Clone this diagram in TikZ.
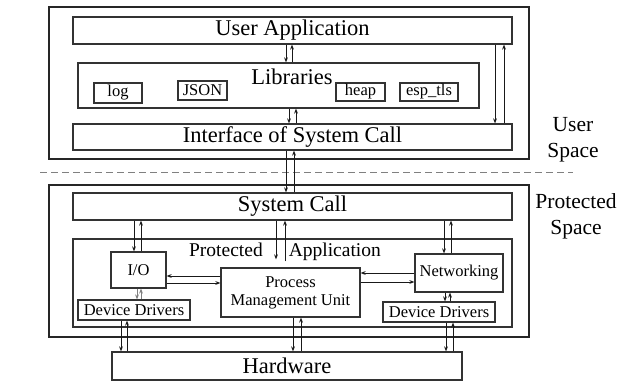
\documentclass[tikz,border=0pt]{standalone}
\usepackage{fontspec}
\setmainfont{Liberation Serif}
\usetikzlibrary{arrows.meta}

\tikzset{
    frame/.style={draw=black!85, line width=1.5pt},
    box/.style={draw=black!80, line width=1.2pt, fill=white, inner sep=0pt},
    bigtxt/.style={font=\fontsize{22.5}{26}\selectfont},
    sidetxt/.style={font=\fontsize{21.5}{26}\selectfont},
    midtxt/.style={font=\fontsize{16.5}{18}\selectfont},
    smltxt/.style={font=\fontsize{16.5}{17}\selectfont},
    arr/.style={-{Stealth[length=5pt,width=3.8pt]}, line width=0.8pt, black!90},
}

\begin{document}
\begin{tikzpicture}[x=1pt, y=-1pt]
    \useasboundingbox (0,0) rectangle (621,382);

    % Outer frames and separator
    \draw[frame] (49,7) rectangle (529,159);
    \draw[frame] (49,185) rectangle (529,337);
    \draw[gray, line width=1pt, dash pattern=on 7pt off 4pt] (40,173) -- (573,173);

    % User space
    \node[box, bigtxt, minimum width=439pt, minimum height=27pt] (app) at (292.5,30.5) {User Application};
    \node[box, minimum width=401pt, minimum height=45pt] (lib) at (278.5,85.5) {};
    \node[bigtxt] (libtxt) at (292,77) {Libraries};
    \node[box, smltxt, minimum width=48pt, minimum height=20pt] (log) at (118,93) {log};
    \node[box, smltxt, minimum width=49pt, minimum height=19pt] (json) at (202.5,90.5) {JSON};
    \node[box, smltxt, minimum width=49pt, minimum height=18pt] (heap) at (360.5,92) {heap};
    \node[box, smltxt, minimum width=58pt, minimum height=18pt] (tls) at (429,92) {esp\_tls};
    \node[box, bigtxt, minimum width=439pt, minimum height=26pt] (iface) at (292.5,137) {Interface of System Call};

    % Protected space
    \node[box, bigtxt, minimum width=439pt, minimum height=27pt] (sys) at (292.5,206.5) {System Call};
    \node[box, minimum width=439pt, minimum height=88pt] (papp) at (292.5,283) {};
    \node[font=\fontsize{19.5}{22}\selectfont] (papptxt) at (285,252) {Protected\hspace{26pt}Application};
    \node[box, midtxt, minimum width=55pt, minimum height=36pt] (io) at (138.5,270) {I/O};
    \node[box, midtxt, minimum width=139pt, minimum height=49pt, align=center] (pmu) at (290.5,292.5) {Process\\Management Unit};
    \node[box, midtxt, minimum width=88pt, minimum height=38pt] (net) at (459,273) {Networking};
    \node[box, midtxt, minimum width=112pt, minimum height=20pt] (dd1) at (134,310) {Device Drivers};
    \node[box, midtxt, minimum width=112pt, minimum height=20pt] (dd2) at (439,312) {Device Drivers};
    \node[box, bigtxt, minimum width=350pt, minimum height=28pt] (hw) at (287,366) {Hardware};

    % Side labels
    \node[sidetxt, align=center] (usp) at (573,140) {User\\Space};
    \node[sidetxt, align=center] (psp) at (576,216) {Protected\\Space};

    % Vertical arrow pairs (down, up)
    \foreach \a/\b/\xd/\xu in {app/lib/286/292, lib/iface/289/296, app/iface/495/504,
        iface/sys/286/294, sys/io/134/141, sys/net/444/451,
        net/dd2/445/450, dd1/hw/121/127, pmu/hw/293/301, dd2/hw/446/453} {
        \draw[arr] (\a.south -| \xd,0) -- (\b.north -| \xd,0);
        \draw[arr] (\b.north -| \xu,0) -- (\a.south -| \xu,0);
    }
    \draw[arr, shorten >=8pt] (sys.south -| 276,0) -- (pmu.north -| 276,0);
    \draw[arr, shorten <=6pt] (pmu.north -| 285,0) -- (sys.south -| 285,0);
    \draw[arr, gray, line width=0.6pt] (io.south -| 137,0) -- (dd1.north -| 137,0);
    \draw[arr, gray, line width=0.6pt] (dd1.north -| 141,0) -- (io.south -| 141,0);

    % Horizontal arrow pairs
    \draw[arr] (pmu.west |- 0,276) -- (io.east |- 0,276);
    \draw[arr] (io.east |- 0,283) -- (pmu.west |- 0,283);
    \draw[arr] (net.west |- 0,273) -- (pmu.east |- 0,273);
    \draw[arr] (pmu.east |- 0,282) -- (net.west |- 0,282);
\end{tikzpicture}
\end{document}
